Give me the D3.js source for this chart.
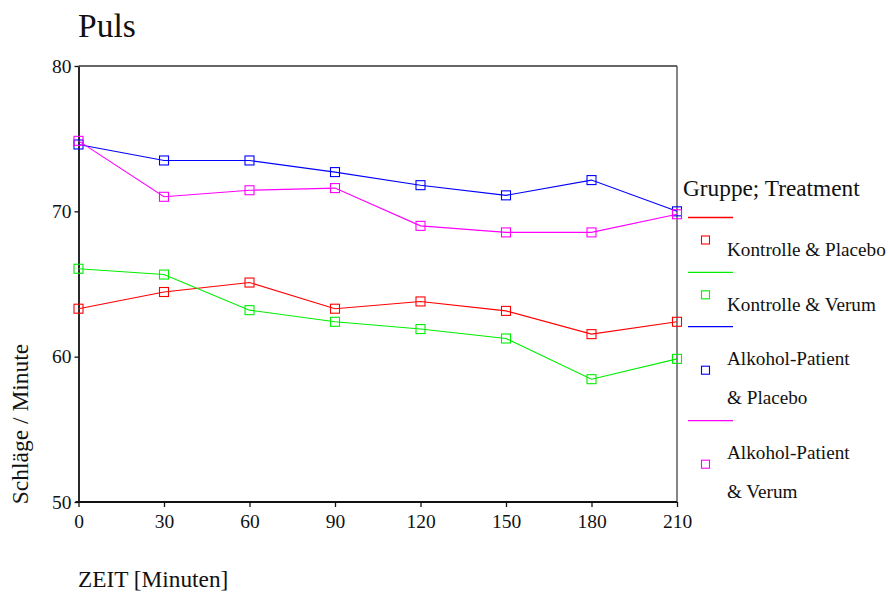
<!DOCTYPE html>
<html><head><meta charset="utf-8">
<script src="https://cdn.jsdelivr.net/npm/d3@7"></script>
<style>body{margin:0;background:#fff}svg{display:block;font-family:"Liberation Serif","Times New Roman",serif}</style>
</head><body><svg id="c" width="888" height="592"></svg>
<script>
const times = [0, 30, 60, 90, 120, 150, 180, 210];
const seriesNames = ["Kontrolle & Placebo", "Kontrolle & Verum", "Alkohol-Patient & Placebo", "Alkohol-Patient & Verum"];
const legendLabels = [["Kontrolle & Placebo"], ["Kontrolle & Verum"], ["Alkohol-Patient", "& Placebo"], ["Alkohol-Patient", "& Verum"]];
const colors = ["#ff0000", "#00ee00", "#0000ff", "#ff00ff"];
const kontrollePlacebo = [63.3, 64.45, 65.1, 63.3, 63.8, 63.15, 61.55, 62.4];
const kontrolleVerum = [66.05, 65.65, 63.2, 62.4, 61.9, 61.25, 58.45, 59.85];
const alkoholPlacebo = [74.6, 73.5, 73.5, 72.7, 71.8, 71.1, 72.15, 70.0];
const alkoholVerum = [74.85, 71.0, 71.45, 71.6, 69.0, 68.55, 68.55, 69.8];
const values = [kontrollePlacebo, kontrolleVerum, alkoholPlacebo, alkoholVerum];
const yTicks = [50, 60, 70, 80];
const FONT = "Liberation Serif, Times New Roman, serif";

const svg = d3.select("#c");
const x = d3.scaleLinear().domain([0, 210]).range([78.5, 677]);
const y = d3.scaleLinear().domain([50, 80]).range([502, 66]);

// frame top & right
svg.append("line").attr("x1", x(0)).attr("x2", x(210)).attr("y1", y(80)).attr("y2", y(80)).attr("stroke", "#333").attr("stroke-width", 1.3);
svg.append("line").attr("x1", x(210)).attr("x2", x(210)).attr("y1", y(80)).attr("y2", y(50)).attr("stroke", "#444").attr("stroke-width", 1.3);

const xAxis = svg.append("g").attr("transform", `translate(0,${y(50)})`)
  .call(d3.axisBottom(x).tickValues(times).tickSize(5).tickPadding(7).tickSizeOuter(0));
const yAxis = svg.append("g").attr("transform", `translate(${x(0)},0)`)
  .call(d3.axisLeft(y).tickValues(yTicks).tickSize(4).tickPadding(3).tickSizeOuter(0));
[xAxis, yAxis].forEach(g => {
  g.attr("font-family", FONT);
  g.select(".domain").attr("stroke", "#111").attr("stroke-width", 1.8);
  g.selectAll(".tick line").attr("stroke", "#111").attr("stroke-width", 1.3);
  g.selectAll("text").attr("font-family", FONT).attr("font-size", 19.5).attr("fill", "#111");
});
xAxis.select(".domain").attr("d", `M${x(0)-3},0H${x(210)}`);

const line = d3.line().x((d, i) => x(times[i])).y(d => y(d));
values.forEach((vals, s) => {
  svg.append("path").datum(vals).attr("d", line).attr("fill", "none").attr("stroke", colors[s]).attr("stroke-width", 1.1);
  svg.selectAll(null).data(vals).enter().append("rect")
    .attr("x", (d, i) => x(times[i]) - 4.5).attr("y", d => y(d) - 4.5)
    .attr("width", 9).attr("height", 9).attr("fill", "none").attr("stroke", colors[s]).attr("stroke-width", 1.1);
});

svg.append("text").attr("x", 78).attr("y", 37).attr("font-family", FONT).attr("font-size", 33.5).attr("fill", "#111").text("Puls");
svg.append("text").attr("x", 78).attr("y", 587).attr("font-family", FONT).attr("font-size", 23.3).attr("fill", "#111").text("ZEIT [Minuten]");
svg.append("text").attr("transform", "translate(28,424) rotate(-90)").attr("text-anchor", "middle")
  .attr("font-family", FONT).attr("font-size", 23.5).attr("fill", "#111").text("Schläge / Minute");

// legend
svg.append("text").attr("x", 683).attr("y", 196).attr("font-family", FONT).attr("font-size", 23.3).attr("fill", "#111").text("Gruppe; Treatment");
const lineYs = [217.5, 272.3, 326.7, 420.7];
seriesNames.forEach((name, s) => {
  const ly = lineYs[s];
  svg.append("line").attr("x1", 688).attr("x2", 733).attr("y1", ly).attr("y2", ly).attr("stroke", colors[s]).attr("stroke-width", 1.3);
  const labels = legendLabels[s];
  const markerY = labels.length === 1 ? ly + 22.5 : ly + 43.5;
  svg.append("rect").attr("x", 701.5).attr("y", markerY - 4).attr("width", 8).attr("height", 8)
    .attr("fill", "none").attr("stroke", colors[s]).attr("stroke-width", 1.1);
  labels.forEach((t, k) => {
    svg.append("text").attr("x", 727).attr("y", ly + 38.5 + k * 38.5).attr("font-family", FONT).attr("font-size", 19.2).attr("fill", "#111").text(t);
  });
});
</script></body></html>
